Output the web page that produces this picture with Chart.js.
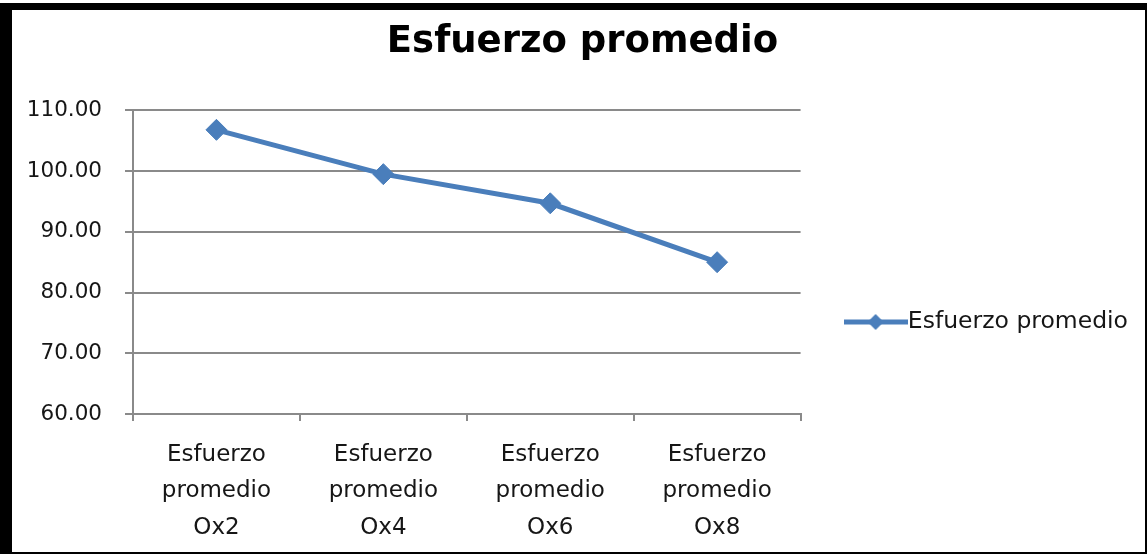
<!DOCTYPE html>
<html>
<head>
<meta charset="utf-8">
<script src="https://cdn.jsdelivr.net/npm/chart.js@4.4.1/dist/chart.umd.min.js"></script>
<style>
  html, body { margin: 0; padding: 0; background: #fff; }
  #frame {
    position: absolute;
    left: 0;
    top: 3px;
    width: 1133px;
    height: 542px;
    border-style: solid;
    border-color: #000;
    border-width: 7px 2px 2px 12px;
  }
</style>
</head>
<body>
<div id="frame"><canvas id="chart"></canvas></div>
<script>
const categories = [
  ['Esfuerzo', 'promedio', 'Ox2'],
  ['Esfuerzo', 'promedio', 'Ox4'],
  ['Esfuerzo', 'promedio', 'Ox6'],
  ['Esfuerzo', 'promedio', 'Ox8']
]
const esfuerzoPromedio = [106.8, 99.5, 94.7, 85.0]
const seriesName = 'Esfuerzo promedio'
const chartTitle = 'Esfuerzo promedio'
const yMin = 60
const yMax = 110
const yStep = 10

const blue = '#4a7ebb'
const gridGray = '#8a8a8a'
const textColor = '#161616'
const fontFamily = '"DejaVu Sans", sans-serif'

// legend symbol: short line with a diamond in the middle
function legendSymbol() {
  const c = document.createElement('canvas')
  c.width = 64
  c.height = 20
  const g = c.getContext('2d')
  g.strokeStyle = blue
  g.lineWidth = 5
  g.beginPath()
  g.moveTo(0, 10)
  g.lineTo(64, 10)
  g.stroke()
  g.fillStyle = blue
  g.beginPath()
  g.moveTo(32, 2)
  g.lineTo(40, 10)
  g.lineTo(32, 18)
  g.lineTo(24, 10)
  g.closePath()
  g.fill()
  return c
}
const symbol = legendSymbol()

new Chart(document.getElementById('chart'), {
  type: 'line',
  data: {
    labels: categories,
    datasets: [{
      label: seriesName,
      data: esfuerzoPromedio,
      borderColor: blue,
      backgroundColor: blue,
      borderWidth: 5,
      tension: 0,
      pointStyle: 'rectRot',
      pointRadius: 10.5,
      pointBorderWidth: 1,
      pointBackgroundColor: blue,
      pointBorderColor: blue
    }]
  },
  options: {
    responsive: true,
    maintainAspectRatio: false,
    animation: false,
    layout: { padding: { left: 15, right: 7, top: 0, bottom: 6 } },
    plugins: {
      title: {
        display: true,
        text: chartTitle,
        color: '#000',
        font: { family: fontFamily, size: 37, weight: 'bold', lineHeight: 1.2 },
        padding: { top: 10, bottom: 46 }
      },
      legend: {
        position: 'right',
        align: 'center',
        maxWidth: 400,
        title: { display: true, text: '', padding: 0, font: { size: 10, lineHeight: '88px' } },
        labels: {
          usePointStyle: true,
          pointStyleWidth: 41,
          padding: 54.5,
          color: textColor,
          font: { family: fontFamily, size: 23.5 },
          generateLabels: chart => chart.data.datasets.map((ds, i) => ({
            text: ds.label,
            pointStyle: symbol,
            fillStyle: blue,
            strokeStyle: blue,
            lineWidth: 0,
            fontColor: textColor,
            datasetIndex: i
          }))
        }
      },
      tooltip: { enabled: false }
    },
    scales: {
      x: {
        offset: true,
        grid: {
          offset: true,
          drawOnChartArea: false,
          drawTicks: true,
          tickLength: 7,
          color: gridGray,
          lineWidth: 2
        },
        border: { color: gridGray, width: 2 },
        ticks: {
          color: textColor,
          padding: 16,
          maxRotation: 0,
          autoSkip: false,
          font: { family: fontFamily, size: 23, lineHeight: 1.58 }
        },
        afterFit: scale => { scale.height = 132 }
      },
      y: {
        min: yMin,
        max: yMax,
        grid: {
          color: gridGray,
          lineWidth: 2,
          drawTicks: true,
          tickLength: 8
        },
        border: { color: gridGray, width: 2 },
        ticks: {
          stepSize: yStep,
          color: textColor,
          padding: 23,
          font: { family: fontFamily, size: 21.5 },
          callback: value => value.toFixed(2)
        },
        afterFit: scale => { scale.width = 106 }
      }
    }
  }
})
</script>
</body>
</html>
